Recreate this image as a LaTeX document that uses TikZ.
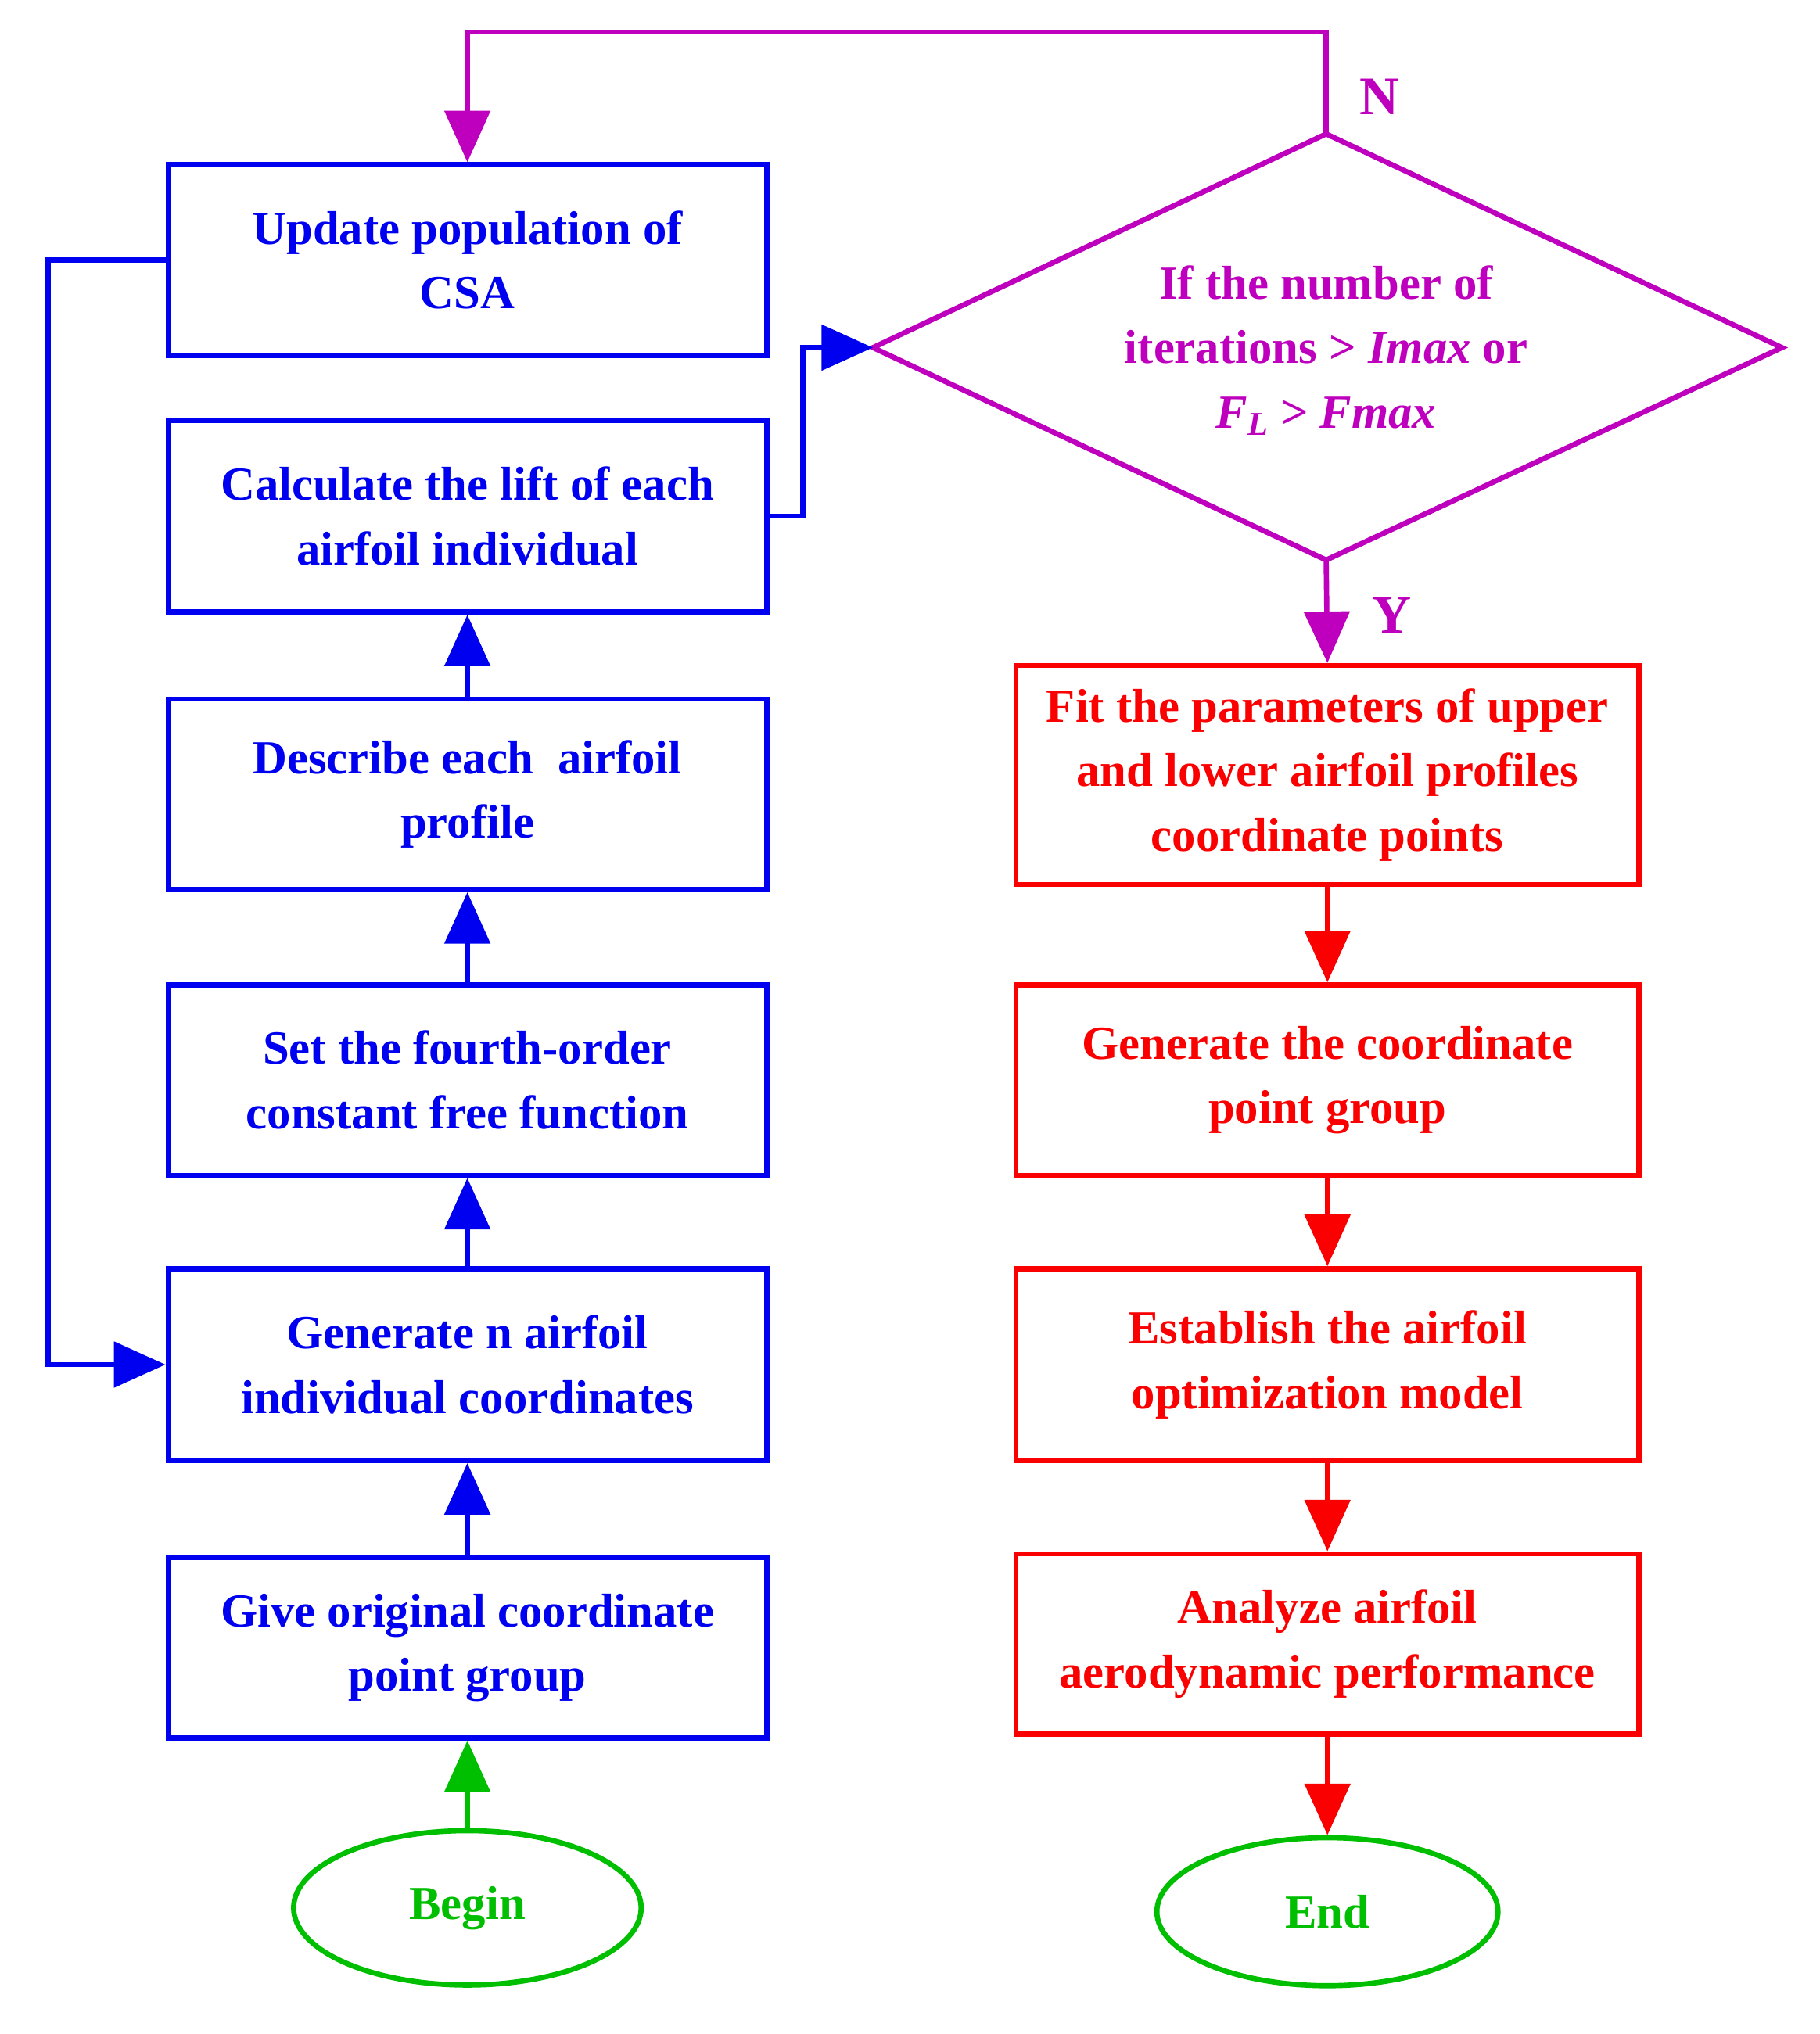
\documentclass[tikz,border=0pt]{standalone}
\usepackage{fontspec}
\setmainfont{Liberation Serif}
\usetikzlibrary{arrows.meta,shapes.geometric}
\definecolor{cblue}{RGB}{0,0,240}
\definecolor{cmag}{RGB}{190,0,190}
\definecolor{cred}{RGB}{250,0,0}
\definecolor{cgreen}{RGB}{0,190,0}
\begin{document}
\begin{tikzpicture}[x=0.02cm,y=-0.02cm,line width=2.3pt,
  box/.style={draw,rectangle,align=center,font=\fontsize{21}{28.5}\selectfont\bfseries,inner sep=0pt},
  lb/.style={box,cblue,text=cblue,minimum width=9.3cm},
  rb/.style={box,cred,text=cred,minimum width=9.68cm},
  term/.style={draw=cgreen,text=cgreen,ellipse,minimum width=5.4cm,minimum height=2.4cm,font=\fontsize{21}{26}\selectfont\bfseries},
  arr/.style={-{Triangle[length=0.8cm,width=0.7cm]}}]
\useasboundingbox (0,0) rectangle (1413,1580);
\node[lb,minimum height=2.96cm] (upd) at (363,202) {Update population of\\CSA};
\node[lb,minimum height=2.98cm] (calc) at (363,401) {Calculate the lift of each\\airfoil individual};
\node[lb,minimum height=2.96cm] (desc) at (363,617) {Describe each~~airfoil\\profile};
\node[lb,minimum height=2.96cm] (set) at (363,839) {Set the fourth-order\\constant free function};
\node[lb,minimum height=2.98cm] (gen) at (363,1060) {Generate n airfoil\\individual coordinates};
\node[lb,minimum height=2.8cm] (give) at (363,1280) {Give original coordinate\\point group};
\node[term] (begin) at (363,1482) {Begin};
\coordinate (dt) at (1030,104); \coordinate (db) at (1030,435);
\coordinate (dl) at (678,270); \coordinate (dr) at (1384,270);
\draw[cmag] (dt)--(dr)--(db)--(dl)--cycle;
\node[align=center,text=cmag,font=\fontsize{21}{28.5}\selectfont\bfseries] (dtext) at (1030,272)
 {If the number of\\iterations > \textit{Imax} or\\\textit{F\textsubscript{L}} > \textit{Fmax}};
\node[rb,minimum height=3.4cm] (fit) at (1031,602) {Fit the parameters of upper\\and lower airfoil profiles\\coordinate points};
\node[rb,minimum height=2.96cm] (gcp) at (1031,839) {Generate the coordinate\\point group};
\node[rb,minimum height=2.98cm] (est) at (1031,1060) {Establish the airfoil\\optimization model};
\node[rb,minimum height=2.8cm] (ana) at (1031,1277) {Analyze airfoil\\aerodynamic performance};
\node[term,minimum width=5.3cm,minimum height=2.3cm] (end) at (1031,1485) {End};
\node[text=cmag,font=\fontsize{24}{28}\selectfont\bfseries] (N) at (1071,75) {N};
\node[text=cmag,font=\fontsize{24}{28}\selectfont\bfseries] (Y) at (1081,478) {Y};
\coordinate (n1) at (1030,25); \coordinate (n2) at (363,25);
\draw[cgreen,arr] (begin)--(give);
\draw[cblue,arr] (give)--(gen);
\draw[cblue,arr] (gen)--(set);
\draw[cblue,arr] (set)--(desc);
\draw[cblue,arr] (desc)--(calc);
\draw[cblue,arr] (upd.west) -- ++(-91,0) |- (gen.west);
\draw[cblue,arr] (calc.east) -- ++(26,0) |- (dl);
\draw[cmag,arr] (dt)--(n1)--(n2)--(upd.north);
\draw[cmag,arr] (db)--(fit.north);
\draw[cred,arr] (fit)--(gcp);
\draw[cred,arr] (gcp)--(est);
\draw[cred,arr] (est)--(ana);
\draw[cred,arr] (ana)--(end);
\end{tikzpicture}
\end{document}
